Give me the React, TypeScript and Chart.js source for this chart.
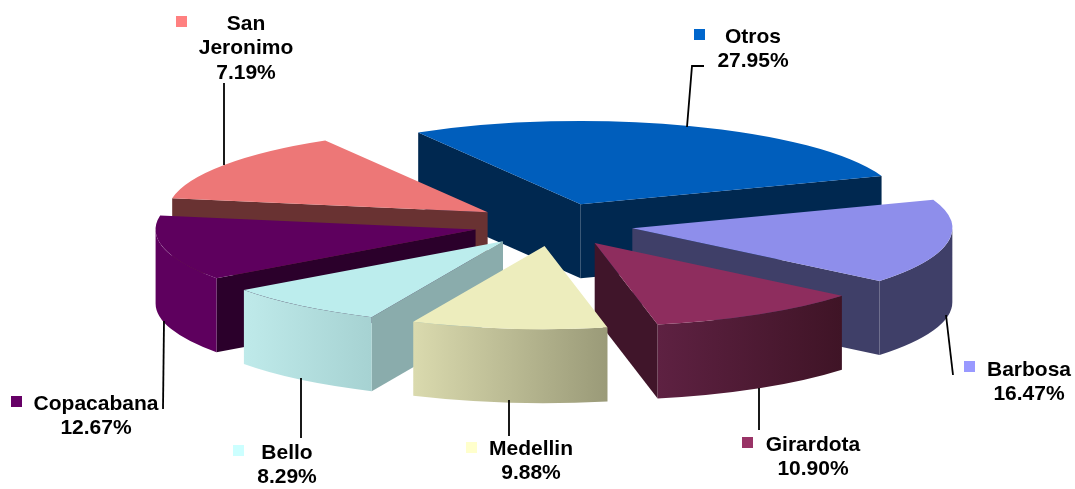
import React, { useEffect, useRef } from "react";
import { Chart, registerables } from "chart.js";

Chart.register(...registerables);

const categories = ["Otros", "Barbosa", "Girardota", "Medellin", "Bello", "Copacabana", "San Jeronimo"];
// Printed percentages (they sum to 93.35: the picture's last slice is wider than its label says).
const printedPercents = ["27.95%", "16.47%", "10.90%", "9.88%", "8.29%", "12.67%", "7.19%"];
// Slice widths.
const sliceValues = [27.95, 16.47, 10.9, 9.88, 8.29, 12.67, 13.84];

const topColors = ["#005EBC", "#8E8EEB", "#8E2D5E", "#EDEDBD", "#BCEDED", "#5E005E", "#ED7777"];
const legendColors = ["#0066CC", "#9999FF", "#993366", "#FFFFCC", "#CCFFFF", "#660066", "#FF8080"];
const cutWallColors = ["#002850", "#3F3F68", "#40152A", "#8A8A6E", "#8AACAC", "#2B002B", "#693232"];
const outerWallLeft = ["#002850", "#3F3F68", "#5E2142", "#DADAAE", "#BFEAEA", "#5E005E", "#693232"];
const outerWallRight = ["#002850", "#3F3F68", "#3F1426", "#9A9A78", "#A6D2D2", "#5E005E", "#693232"];

const paintOrder = [0, 6, 1, 5, 2, 4, 3];

const RADIUS = 320;
const EXPLODE = 80;
const EXPLODE_SQUASH = 0.27;
const RIM_SQUASH = 0.26;
const DEPTH = 74;
const FONT = 'bold 21px "Liberation Sans", Arial, sans-serif';
const LINE = 24.5;

// Label placement, in the same order as categories.
const labelLines = [
  ["Otros"], ["Barbosa"], ["Girardota"], ["Medellin"], ["Bello"], ["Copacabana"], ["San", "Jeronimo"],
];
const labelCenterX = [753, 1029, 813, 531, 287, 96, 246];
const labelTopY = [37, 370, 445, 449, 453, 404, 24];
const markerLeft = [694, 964, 742, 466, 233, 11, 176];
const markerTop = [29, 361, 437, 442, 445, 396, 16];
const leaderPaths = [
  [[687, 127], [692, 66], [704, 66]],
  [[946, 315], [953, 375]],
  [[759, 388], [759, 430]],
  [[509, 400], [509, 436]],
  [[301, 378], [301, 438]],
  [[164, 321], [163, 409]],
  [[224, 165], [224, 83]],
];

const pie3d = {
  id: "pie3d",
  beforeDatasetDraw(chart: any) {
    const ctx: CanvasRenderingContext2D = chart.ctx;
    const arcs = chart.getDatasetMeta(0).data;
    for (const i of paintOrder) {
      const arc = arcs[i];
      const { x, y, startAngle, endAngle, outerRadius } = arc.getProps(["x", "y", "startAngle", "endAngle", "outerRadius"]);
      const mid = (startAngle + endAngle) / 2;
      const ax = x + Math.cos(mid) * EXPLODE;
      const ay = y + Math.sin(mid) * EXPLODE * EXPLODE_SQUASH;
      const rimPoint = (a: number) => [ax + Math.cos(a) * outerRadius, ay + Math.sin(a) * outerRadius * RIM_SQUASH];
      const cut = (a: number) => {
        const p = rimPoint(a);
        ctx.beginPath();
        ctx.moveTo(ax, ay);
        ctx.lineTo(p[0], p[1]);
        ctx.lineTo(p[0], p[1] + DEPTH);
        ctx.lineTo(ax, ay + DEPTH);
        ctx.closePath();
        ctx.fillStyle = cutWallColors[i];
        ctx.fill();
      };
      if (Math.cos(startAngle) < 0) cut(startAngle);
      if (Math.cos(endAngle) > 0) cut(endAngle);
      const lo = Math.max(startAngle, 0);
      const hi = Math.min(endAngle, Math.PI);
      if (hi > lo) {
        const pLo = rimPoint(lo);
        const pHi = rimPoint(hi);
        const left = Math.min(pLo[0], pHi[0]);
        const right = Math.max(pLo[0], pHi[0]);
        const g = ctx.createLinearGradient(left, 0, right, 0);
        g.addColorStop(0, outerWallLeft[i]);
        g.addColorStop(1, outerWallRight[i]);
        ctx.beginPath();
        ctx.ellipse(ax, ay, outerRadius, outerRadius * RIM_SQUASH, 0, lo, hi, false);
        ctx.ellipse(ax, ay + DEPTH, outerRadius, outerRadius * RIM_SQUASH, 0, hi, lo, true);
        ctx.closePath();
        ctx.fillStyle = g;
        ctx.fill();
      }
      // The top face is the library's own arc, flattened and moved out along its mid-angle.
      ctx.save();
      ctx.translate(ax, ay);
      ctx.scale(1, RIM_SQUASH);
      ctx.translate(-x, -y);
      arc.draw(ctx);
      ctx.restore();
    }
    return false;
  },
  afterDraw(chart: any) {
    const ctx: CanvasRenderingContext2D = chart.ctx;
    ctx.save();
    ctx.strokeStyle = "#000000";
    ctx.lineWidth = 1.8;
    for (const path of leaderPaths) {
      ctx.beginPath();
      path.forEach((p, k) => (k ? ctx.lineTo(p[0], p[1]) : ctx.moveTo(p[0], p[1])));
      ctx.stroke();
    }
    ctx.font = FONT;
    ctx.textAlign = "center";
    ctx.textBaseline = "middle";
    categories.forEach((_, i) => {
      ctx.fillStyle = legendColors[i];
      ctx.fillRect(markerLeft[i], markerTop[i], 11, 11);
      ctx.fillStyle = "#000000";
      [...labelLines[i], printedPercents[i]].forEach((t, k) => {
        ctx.fillText(t, labelCenterX[i], labelTopY[i] + k * LINE);
      });
    });
    ctx.restore();
  },
};

export default function App() {
  const ref = useRef<HTMLCanvasElement>(null);
  useEffect(() => {
    const chart = new Chart(ref.current!, {
      type: "pie",
      data: {
        labels: categories,
        datasets: [
          {
            data: sliceValues,
            backgroundColor: topColors,
            borderWidth: 0,
            radius: RADIUS,
            hoverOffset: 0,
          } as any,
        ],
      },
      options: {
        responsive: false,
        animation: false,
        rotation: -30.5,
        layout: { padding: { left: 32, bottom: 40 } },
        events: [],
        plugins: { legend: { display: false }, tooltip: { enabled: false } },
      },
      plugins: [pie3d],
    });
    return () => chart.destroy();
  }, []);
  return (
    <canvas
      ref={ref}
      width={1075}
      height={489}
      style={{ position: "fixed", left: 0, top: 0, width: 1075, height: 489, display: "block" }}
    />
  );
}
